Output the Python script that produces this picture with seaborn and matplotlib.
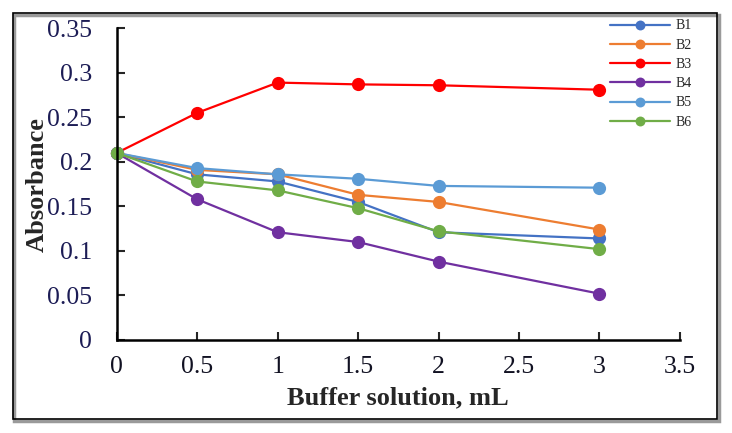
import numpy as np
import pandas as pd
import seaborn as sns
import matplotlib.pyplot as plt
from matplotlib.patches import Rectangle
from matplotlib.ticker import FuncFormatter, MultipleLocator

# buffer volume (mL)
buffer_ml = [0, 0.5, 1, 1.5, 2, 3]

b1 = [0.210, 0.186, 0.178, 0.155, 0.121, 0.114]
b2 = [0.210, 0.191, 0.186, 0.163, 0.155, 0.124]
b3 = [0.210, 0.255, 0.289, 0.287, 0.286, 0.281]
b4 = [0.210, 0.158, 0.121, 0.110, 0.088, 0.052]
b5 = [0.210, 0.193, 0.186, 0.181, 0.173, 0.171]
b6 = [0.210, 0.178, 0.168, 0.148, 0.122, 0.102]

series_names = ["B1", "B2", "B3", "B4", "B5", "B6"]
series_vals = [b1, b2, b3, b4, b5, b6]
colors = ["#4472C4", "#ED7D31", "#FF0000", "#7030A0", "#5B9BD5", "#70AD47"]

df = pd.DataFrame({
    "x": buffer_ml * len(series_names),
    "y": sum(series_vals, []),
    "series": np.repeat(series_names, len(buffer_ml)),
})

sns.set_style("white")
plt.rcParams["font.family"] = ["Liberation Serif", "DejaVu Serif"]

fig = plt.figure(figsize=(7.32, 4.33), dpi=100)
ax = fig.add_axes([0.1594, 0.2148, 0.7695, 0.7199])

for name, col in zip(series_names, colors):
    sub = df[df["series"] == name]
    sns.lineplot(data=sub, x="x", y="y", ax=ax, color=col, marker="o",
                 markersize=9.5, markeredgewidth=0, linewidth=1.6,
                 label=name, clip_on=False)

ax.set_xlim(0, 3.5)
ax.set_ylim(0, 0.35)
ax.xaxis.set_major_locator(MultipleLocator(0.5))
ax.yaxis.set_major_locator(MultipleLocator(0.05))
fmt = FuncFormatter(lambda v, p: "%g" % round(v, 3))
ax.xaxis.set_major_formatter(fmt)
ax.yaxis.set_major_formatter(fmt)

for side in ["top", "right"]:
    ax.spines[side].set_visible(False)
for side in ["left", "bottom"]:
    ax.spines[side].set_color("black")
    ax.spines[side].set_linewidth(1.8)

ax.tick_params(axis="both", direction="in", length=6, width=1.5,
               labelsize=18.5, left=True, bottom=True)
ax.tick_params(axis="y", labelcolor="#1c1c55", pad=17.8)
ax.tick_params(axis="x", labelcolor="#111122", pad=11.5)

ax.set_xlabel("Buffer solution, mL", fontsize=19, fontweight="bold")
ax.set_ylabel("Absorbance", fontsize=19, fontweight="bold")
ax.xaxis.set_label_coords(0.5, -0.149)
ax.yaxis.set_label_coords(-0.120, 0.5)

leg = ax.legend(loc="upper left", bbox_to_anchor=(0.8333, 0.955),
                bbox_transform=fig.transFigure, frameon=False,
                fontsize=10, handlelength=4.3, labelspacing=0.45,
                handletextpad=0.43, borderpad=0, borderaxespad=0,
                markerscale=0.75)

# frame around the whole chart, with a grey shadow on the right and bottom
fig.patches.append(Rectangle((0.0198, 0.0277), 0.9625, 0.9388, transform=fig.transFigure,
                             fill=False, edgecolor="#9a9a9a", linewidth=2.5, zorder=0))
fig.patches.append(Rectangle((0.0171, 0.0323), 0.9625, 0.9388, transform=fig.transFigure,
                             fill=False, edgecolor="black", linewidth=1.2, zorder=1))

fig.savefig("out.png", dpi=100)
